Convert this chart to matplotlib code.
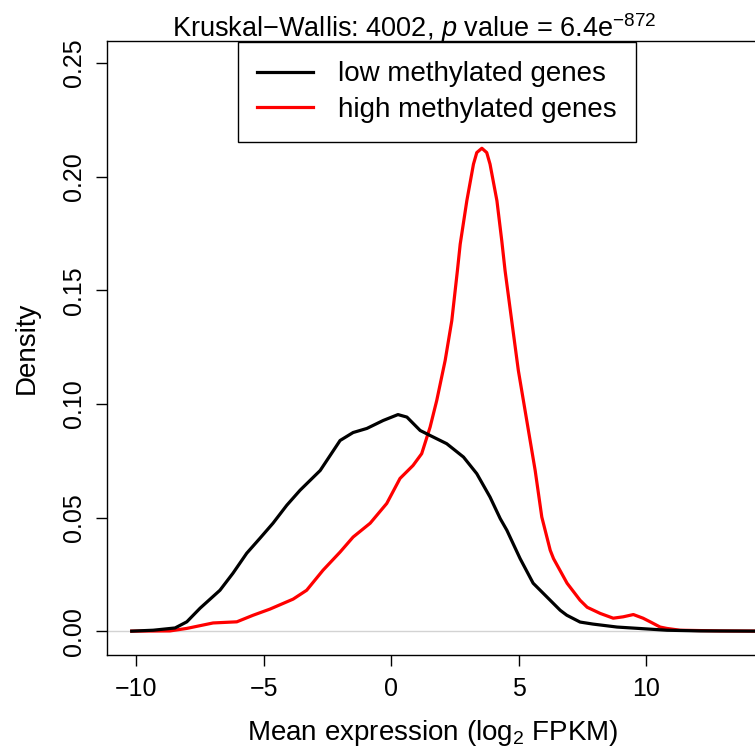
import numpy as np
import matplotlib.pyplot as plt

plt.rcParams['font.family'] = ['Liberation Sans', 'DejaVu Sans']
plt.rcParams['mathtext.fontset'] = 'custom'
plt.rcParams['mathtext.rm'] = 'Liberation Sans'
plt.rcParams['mathtext.it'] = 'Liberation Sans:italic'

# Datos (densidad de expresión media)
x_bajo = [-10.17, -9.33, -8.47, -8.01, -7.49, -6.71, -6.20, -5.66, -5.14, -4.63,
          -4.09, -3.57, -2.78, -2.39, -2.00, -1.49, -0.95, -0.31, 0.27, 0.62,
          1.14, 1.53, 2.18, 2.84, 3.36, 3.88, 4.28, 4.54, 5.06, 5.57,
          6.63, 6.89, 7.41, 7.92, 8.86, 10.82, 12.12, 14.5]
y_bajo = [0.0000, 0.0004, 0.0014, 0.0041, 0.0101, 0.0180, 0.0255, 0.0343, 0.0409, 0.0475,
          0.0554, 0.0620, 0.0707, 0.0773, 0.0839, 0.0874, 0.0892, 0.0927, 0.0953, 0.0942,
          0.0883, 0.0861, 0.0825, 0.0766, 0.0693, 0.0590, 0.0495, 0.0444, 0.0319, 0.0211,
          0.0092, 0.0070, 0.0040, 0.0031, 0.0018, 0.0004, 0.0001, 0.0000]

x_alto = [-10.17, -8.67, -8.01, -6.98, -6.05, -5.41, -4.75, -3.84, -3.31, -2.67,
          -2.00, -1.49, -0.82, -0.17, 0.35, 0.86, 1.20, 1.53, 1.79, 2.12,
          2.38, 2.60, 2.71, 2.97, 3.23, 3.36, 3.56, 3.75, 3.88, 4.15,
          4.34, 4.47, 4.73, 4.99, 5.32, 5.65, 5.91, 6.24, 6.37, 6.90, 7.41,
          7.69, 8.20, 8.71, 9.10, 9.50, 9.88, 10.16, 10.55, 10.81, 11.33,
          12.90, 14.5]
y_alto = [0.0000, 0.0001, 0.0012, 0.0036, 0.0041, 0.0070, 0.0097, 0.0141, 0.0180, 0.0268,
          0.0348, 0.0414, 0.0475, 0.0562, 0.0672, 0.0729, 0.0781, 0.0898, 0.1015, 0.1191,
          0.1366, 0.1586, 0.1703, 0.1894, 0.2055, 0.2106, 0.2125, 0.2106, 0.2055, 0.1894,
          0.1718, 0.1586, 0.1366, 0.1147, 0.0927, 0.0707, 0.0502, 0.0356, 0.0319, 0.0211, 0.0136,
          0.0105, 0.0078, 0.0057, 0.0063, 0.0073, 0.0057, 0.0041, 0.0018, 0.0012, 0.0004,
          0.0001, 0.0000]

W, H = 755, 747
fig = plt.figure(figsize=(W / 100, H / 100), dpi=100)
ax = fig.add_axes([107 / W, 1 - 655 / H, 1 - 107 / W, (655 - 41) / H])

ax.axhline(0, color='#d3d3d3', lw=1.0, zorder=1)
ax.plot(x_bajo, y_bajo, color='black', lw=2.3, label='low methylated genes', zorder=3,
        solid_joinstyle='round')
ax.plot(x_alto, y_alto, color='red', lw=2.3, label='high methylated genes', zorder=2,
        solid_joinstyle='round')

ax.set_xlim(-11.14, 14.27)
ax.set_ylim(-0.0105, 0.2597)
ax.set_xticks([-10, -5, 0, 5, 10])
ax.set_xticklabels(['\u221210', '\u22125', '0', '5', '10'])
ax.set_yticks([0, 0.05, 0.10, 0.15, 0.20, 0.25])
ax.set_yticklabels(['0.00', '0.05', '0.10', '0.15', '0.20', '0.25'], rotation=90, va='center')
ax.tick_params(direction='out', length=8, width=1, labelsize=18)
ax.tick_params(axis='x', pad=7.5)
ax.tick_params(axis='y', pad=7)
ax.spines['right'].set_visible(False)
for s in ['left', 'top', 'bottom']:
    ax.spines[s].set_linewidth(1)

fig.text(433 / W, 1 - 740 / H, 'Mean expression (log$_2$ FPKM)', ha='center', va='baseline', fontsize=20)
fig.text(27 / W, 1 - 348 / H, 'Density', ha='center', va='center', rotation=90, fontsize=20)
fig.text(414 / W, 1 - 37 / H, 'Kruskal\u2212Wallis: 4002, $\\it{p}$ value = 6.4e$^{\\mathrm{-872}}$',
         ha='center', va='baseline', fontsize=19.5)

leg = ax.legend(loc='upper center', bbox_to_anchor=(437 / W, 1 - 42 / H), bbox_transform=fig.transFigure,
                fontsize=20, frameon=True, fancybox=False, edgecolor='black', framealpha=1,
                handlelength=2.0, handletextpad=0.9, borderpad=0.7, labelspacing=0.33, borderaxespad=0)
leg.get_frame().set_linewidth(1)

plt.savefig('out.png', dpi=100)
